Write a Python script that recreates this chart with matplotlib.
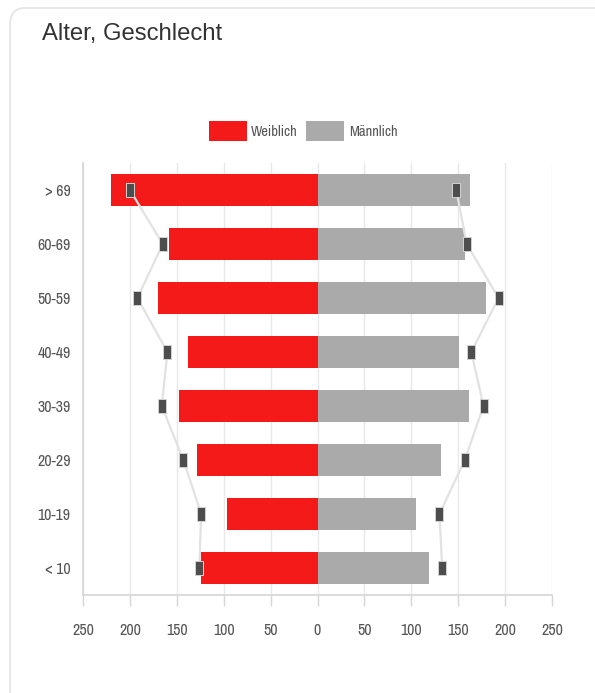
import matplotlib
matplotlib.use("Agg")
import matplotlib.pyplot as plt
from matplotlib.patches import FancyBboxPatch, Patch
from matplotlib import font_manager
import numpy as np

categories = ["> 69", "60-69", "50-59", "40-49", "30-39", "20-29", "10-19", "< 10"]
weiblich = [220, 158, 170, 138, 148, 128, 97, 124]
maennlich = [163, 157, 180, 151, 161, 132, 105, 119]
weiblich_prev = [200, 165, 192, 160, 166, 143, 124, 126]
maennlich_prev = [148, 159, 193, 164, 177, 157, 130, 133]
xticks = [-250, -200, -150, -100, -50, 0, 50, 100, 150, 200, 250]
xticklabels = ["250", "200", "150", "100", "50", "0", "50", "100", "150", "200", "250"]

RED = "#f41a1a"
GRAY = "#aaaaaa"
MARK = "#4d4d4d"
LINE = "#e2e2e2"
fam = ["Liberation Sans", "DejaVu Sans"]

# look for a regular-weight condensed face
cands = []
for f in font_manager.fontManager.ttflist:
    fn = f.fname.lower()
    condensed = ("narrow" in f.name.lower()) or ("condensed" in fn) or ("narrow" in fn)
    if not condensed:
        continue
    if f.style != "normal":
        continue
    if any(k in fn for k in ("bold", "light", "thin", "black", "medium", "semi", "extra", "oblique", "italic")):
        continue
    score = 0
    if "narrow" in fn:
        score -= 2
    cands.append((score, f.fname, f.name))
cands.sort()
info = cands[0] if cands else None
if info is not None:
    tick_font = font_manager.FontProperties(fname=info[1], size=11.5)
    leg_font = font_manager.FontProperties(fname=info[1], size=10.5)
else:
    tick_font = font_manager.FontProperties(family=fam, size=10)
    leg_font = tick_font

fig = plt.figure(figsize=(5.95, 6.93), dpi=100)
W, H = 595, 693

card = FancyBboxPatch((10 / W, -20 / H), 700 / W, (H - 8 + 20) / H,
                      boxstyle="round,pad=0,rounding_size=0.025",
                      transform=fig.transFigure, facecolor="white",
                      edgecolor="#e3e3e3", linewidth=1.2, zorder=-10)
fig.patches.append(card)

fig.text(42 / W, 1 - 34 / H, "Alter, Geschlecht", fontsize=17.2,
         family=fam, color="#333333", va="center", ha="left")

ax = fig.add_axes([83 / W, 1 - 595 / H, (552 - 83) / W, (595 - 163) / H])
ax.set_zorder(5)
ax.patch.set_alpha(0)
y = np.arange(len(categories))

ax.barh(y, [-v for v in weiblich], height=0.61, color=RED, zorder=2)
ax.barh(y, maennlich, height=0.61, color=GRAY, zorder=2)

marker_verts = [(-0.28, -0.5), (0.28, -0.5), (0.28, 0.5), (-0.28, 0.5), (-0.28, -0.5)]
for side, vals in (("w", weiblich_prev), ("m", maennlich_prev)):
    xs = [-v for v in vals] if side == "w" else vals
    ax.plot(xs, y, color=LINE, lw=1.6, zorder=3)
    ax.plot(xs, y, lw=0, zorder=4,
            marker=marker_verts, markersize=10.5, markerfacecolor=MARK,
            markeredgecolor="#d2d2d2", markeredgewidth=0.7)

ax.set_xlim(-250, 250)
ax.set_ylim(len(categories) - 0.5, -0.5)
ax.set_xticks(xticks)
ax.set_xticklabels(xticklabels, fontproperties=tick_font, color="#555555")
ax.set_yticks(y)
ax.set_yticklabels(categories, fontproperties=tick_font, color="#555555")
ax.grid(axis="x", color="#e8e8e8", lw=1.0, zorder=0)
ax.set_axisbelow(True)
for s in ["top", "right"]:
    ax.spines[s].set_visible(False)
for s in ["left", "bottom"]:
    ax.spines[s].set_color("#d6d6d6")
    ax.spines[s].set_linewidth(1.2)
ax.tick_params(axis="x", length=8, color="#d6d6d6", width=1.0, pad=12)
ax.tick_params(axis="y", length=0, pad=9)

handles = [Patch(facecolor=RED, label="Weiblich"), Patch(facecolor=GRAY, label="Männlich")]
leg = fig.legend(handles=handles, loc="center", bbox_to_anchor=(303 / W, 1 - 131 / H),
                 ncol=2, frameon=False, handlelength=2.6, handleheight=1.7,
                 handletextpad=0.3, columnspacing=0.6,
                 prop=leg_font)
for t in leg.get_texts():
    t.set_color("#555555")

fig.savefig("out.png", dpi=100)
